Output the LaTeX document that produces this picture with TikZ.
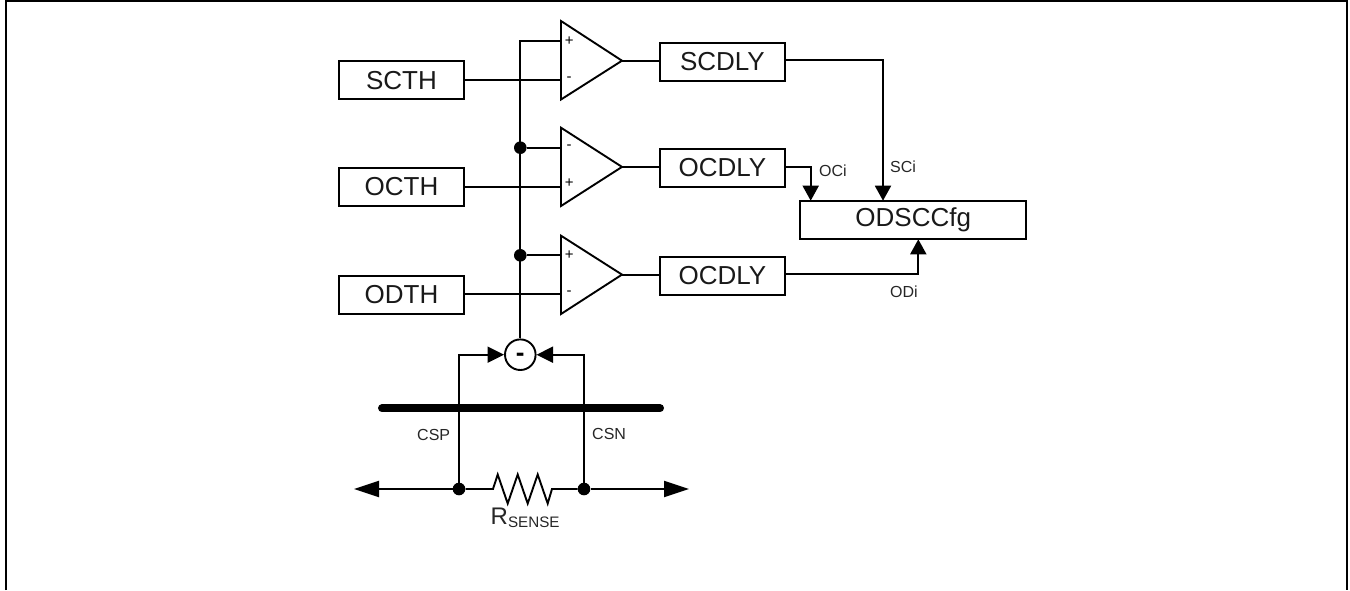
\documentclass[tikz,border=0pt]{standalone}
\usepackage{fontspec}
\setmainfont{Liberation Sans}
\usetikzlibrary{arrows.meta}
\tikzset{
  x=1pt,y=-1pt,
  wire/.style={line width=1.9pt,line join=miter},
  bluntbox/.style={draw,line width=2pt,inner sep=0,minimum height=38pt,font=\fontsize{26}{30}\selectfont,text=black!90},
  thbox/.style={bluntbox,minimum width=125pt},
  dlybox/.style={bluntbox,minimum width=125pt},
  cmp/.style={line width=1.9pt,line join=miter},
  junct/.style={circle,fill=black,inner sep=0,minimum size=12.6pt},
  sign/.style={inner sep=0,font=\fontsize{15}{16}\selectfont},
  small/.style={inner sep=0,anchor=west,font=\fontsize{16}{18}\selectfont,text=black!85},
  headS/.style={-{Triangle[length=15pt,width=16pt]}},
  headM/.style={-{Triangle[length=16.5pt,width=16pt]}},
  headL/.style={-{Triangle[length=25pt,width=16pt]}}
}
\begin{document}
\begin{tikzpicture}
\useasboundingbox (0,0) rectangle (1350,590);
% frame
\draw[line width=2pt] (5.5,590) -- (5.5,1.2) -- (1347,1.2) -- (1347,590);
% boxes
\node[thbox] (scth) at (401.5,80.2) {SCTH};
\node[thbox] (octh) at (401.5,187) {OCTH};
\node[thbox] (odth) at (401.5,294.8) {ODTH};
\node[dlybox] (scdly) at (722.4,61.5) {SCDLY};
\node[dlybox] (ocdly) at (722.4,167.8) {OCDLY};
\node[dlybox] (oddly) at (722.4,275.6) {OCDLY};
\node[bluntbox,minimum width=225.7pt] (cfg) at (913.2,220) {ODSCCfg};
% comparators
\coordinate (a1) at (561,21); \coordinate (b1) at (561,99.5); \coordinate (o1) at (622,60.7);
\coordinate (a2) at (561,127.7); \coordinate (b2) at (561,206); \coordinate (o2) at (622,166.9);
\coordinate (a3) at (561,235.7); \coordinate (b3) at (561,314); \coordinate (o3) at (622,274.6);
\draw[cmp] (a1) -- (b1) -- (o1) -- cycle;
\draw[cmp] (a2) -- (b2) -- (o2) -- cycle;
\draw[cmp] (a3) -- (b3) -- (o3) -- cycle;
% comparator signs
\node[sign] (p1) at (569.3,41) {+};
\node[sign] (m1) at (569,79.5) {-};
\node[sign] (m2) at (569,147) {-};
\node[sign] (p2) at (569.3,183) {+};
\node[sign] (p3) at (569.3,254.7) {+};
\node[sign] (m3) at (569,293) {-};
% subtractor
\node[circle,draw,line width=1.9pt,minimum size=30.6pt,inner sep=0] (sub) at (520.3,354.7) {\smash{\raisebox{-6.9pt}{\fontsize{26}{28}\selectfont\bfseries -}}};
% bus
\coordinate (t1) at (520.3,41); \coordinate (i1) at (561,41);
\coordinate (s1) at (561,80.2);
\coordinate (i2) at (561,147.7); \coordinate (s2) at (561,186.6);
\coordinate (i3) at (561,255.3); \coordinate (s3) at (561,293.8);
\node[junct] (j2) at (520.3,147.7) {};
\node[junct] (j3) at (520.3,255.3) {};
\draw[wire] (i1) -- (t1) -- (sub.north);
\draw[wire] (j2) -- (i2);
\draw[wire] (j3) -- (i3);
\draw[wire] (scth.east |- s1) -- (s1);
\draw[wire] (octh.east |- s2) -- (s2);
\draw[wire] (odth.east |- s3) -- (s3);
% outputs
\draw[wire] (o1) -- (scdly.west |- o1);
\draw[wire] (o2) -- (ocdly.west |- o2);
\draw[wire] (o3) -- (oddly.west |- o3);
\coordinate (sci) at (883,200.7);
\coordinate (oci) at (810.7,200.7);
\coordinate (odi) at (918.3,239.3);
\draw[wire,headS] (scdly.east |- 0,60.3) -| (sci);
\draw[wire,headS] (ocdly.east |- 0,166.7) -| (oci);
\draw[wire,headS] (oddly.east |- 0,274.3) -| (odi);
\node[small] (lsci) at (890,167) {SCi};
\node[small] (loci) at (819,171) {OCi};
\node[small] (lodi) at (890,292) {ODi};
% sense bar
\node[junct] (jl) at (459,489) {};
\node[junct] (jr) at (584,489) {};
\draw[line width=8pt,line cap=round] (382,408.3) -- (660,408.3);
\draw[wire,headM] (jl) |- (sub.west);
\draw[wire,headM] (jr) |- (sub.east);
\node[small] (csp) at (417,434.5) {CSP};
\node[small] (csn) at (592,433.5) {CSN};
% resistor and terminals
\coordinate (rl) at (493,489); \coordinate (rr) at (552,489);
\coordinate (tl) at (354,489); \coordinate (tr) at (689,489);
\draw[wire] (jl) -- (rl) -- (497.7,474.5) -- (507.7,503.5) -- (517.7,474.5) -- (527.7,503.5) -- (537.7,474.5) -- (547.7,503.5) -- (rr) -- (jr);
\draw[wire,headL] (jl) -- (tl);
\draw[wire,headL] (jr) -- (tr);
\node[inner sep=0,anchor=base west,text=black!85] (rs) at (490.5,524) {\fontsize{24}{26}\selectfont R\raisebox{-3pt}{\fontsize{15.2}{18}\selectfont SENSE}};
\end{tikzpicture}
\end{document}
